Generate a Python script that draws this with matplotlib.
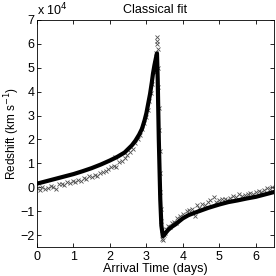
import matplotlib
matplotlib.use("Agg")
import matplotlib.pyplot as plt

plt.rcParams['font.family'] = ['Liberation Sans', 'DejaVu Sans']

# Fitted curve (units of 1e4 km/s)
fit_x = [0.0, 0.25, 0.5, 0.75, 1.0, 1.25, 1.5, 1.75, 2.0, 2.2, 2.4, 2.6, 2.7,
         2.8, 2.88, 2.95, 3.0, 3.05, 3.1, 3.15, 3.18, 3.22, 3.26, 3.29,
         3.31, 3.34, 3.38, 3.41, 3.45, 3.5, 3.55, 3.6, 3.7, 3.8, 3.9, 4.0,
         4.15, 4.3, 4.5, 4.7, 5.0, 5.25, 5.5, 5.75, 6.0, 6.25, 6.5]
fit_y = [0.15, 0.25, 0.35, 0.45, 0.55, 0.67, 0.8, 0.95, 1.12, 1.27, 1.45, 1.75, 1.95,
         2.2, 2.45, 2.8, 3.1, 3.5, 3.9, 4.4, 4.75, 5.1, 5.4, 5.6,
         4.5, 2.0, -0.5, -1.6, -2.05, -1.97, -1.87, -1.78, -1.65, -1.55, -1.42, -1.3,
         -1.17, -1.08, -0.97, -0.86, -0.72, -0.62, -0.55, -0.47, -0.4, -0.3, -0.2]

# Observed points (units of 1e4 km/s)
obs_x = [0.00, 0.08, 0.15, 0.22, 0.30, 0.38, 0.45, 0.52, 0.60, 0.68, 0.75, 0.82,
         0.90, 0.98, 1.05, 1.12, 1.20, 1.28, 1.35, 1.42, 1.50, 1.58, 1.65, 1.72,
         1.80, 1.88, 1.95, 2.02, 2.10, 2.13, 2.16, 2.25, 2.32, 2.40, 2.48, 2.55,
         2.62, 2.70, 2.76, 2.82, 2.88, 2.93, 2.98, 3.03, 3.08, 3.12, 3.16, 3.20,
         3.23, 3.26, 3.28, 3.29, 3.30, 3.31, 3.32, 3.33, 3.34, 3.35, 3.36, 3.37,
         3.38, 3.39, 3.40, 3.42, 3.44, 3.46, 3.48, 3.50, 3.55, 3.60, 3.65, 3.70,
         3.75, 3.80, 3.85, 3.92, 4.00, 4.10, 4.18, 4.25, 4.32, 4.38, 4.45, 4.52,
         4.60, 4.68, 4.75, 4.86, 4.92, 5.00, 5.08, 5.15, 5.22, 5.30, 5.38, 5.45,
         5.55, 5.62, 5.70, 5.78, 5.85, 5.92, 6.00, 6.08, 6.15, 6.22, 6.30, 6.38,
         6.45]
obs_y = [-0.05, -0.12, 0.02, -0.08, -0.02, 0.05, 0.00, -0.08, 0.12, 0.15, 0.10, 0.22,
         0.18, 0.25, 0.20, 0.32, 0.28, 0.38, 0.35, 0.45, 0.42, 0.50, 0.48, 0.58,
         0.62, 0.66, 0.78, 0.85, 0.88, 1.26, 0.85, 1.05, 1.10, 1.22, 1.35, 1.48,
         1.62, 1.85, 2.00, 2.20, 2.45, 2.70, 2.95, 3.25, 3.60, 3.95, 4.30, 4.80,
         5.20, 5.60, 6.00, 6.30, 6.10, 5.80, 5.00, 4.20, 3.30, 2.40, 1.50, 0.60,
         -0.20, -0.90, -1.40, -1.80, -2.15, -2.20, -2.00, -1.90, -1.75, -1.60, -1.65, -1.50,
         -1.45, -1.50, -1.30, -1.20, -1.10, -1.00, -0.95, -0.90, -1.20, -0.75, -0.85, -0.70,
         -0.75, -0.60, -0.55, -0.40, -0.60, -0.55, -0.50, -0.48, -0.55, -0.45, -0.35, -0.42,
         -0.28, -0.38, -0.32, -0.30, -0.22, -0.28, -0.20, -0.15, -0.18, -0.10, -0.05, -0.08,
         0.02]

x_ticks = [0, 1, 2, 3, 4, 5, 6]
y_ticks = [-2, -1, 0, 1, 2, 3, 4, 5, 6, 7]

fig = plt.figure(figsize=(2.76, 2.76), dpi=100)
ax = fig.add_axes([0.134, 0.105, 0.859, 0.823])

ax.plot(obs_x, obs_y, linestyle='none', marker='x', markersize=3.5,
        markeredgewidth=0.6, color='#505050')
ax.plot(fit_x, fit_y, color='black', linewidth=3)

ax.set_xlim(0, 6.5)
ax.set_ylim(-2.5, 7)
ax.set_xticks(x_ticks)
ax.set_yticks(y_ticks)
ax.set_xticklabels([str(t) for t in x_ticks])
ax.set_yticklabels([str(t) if t >= 0 else '\u2212' + str(-t) for t in y_ticks])
ax.tick_params(direction='in', top=True, right=True, labelsize=9, length=3,
               width=0.6)
ax.tick_params(axis='y', pad=2)
ax.tick_params(axis='x', pad=3)
for s in ax.spines.values():
    s.set_linewidth(0.6)

ax.set_title('Classical fit', fontsize=9, pad=5)
ax.set_xlabel('Arrival Time (days)', fontsize=9, labelpad=0)
ax.set_ylabel('Redshift (km s$^{-1}$)', fontsize=8.5)
ax.yaxis.set_label_coords(-0.065, 0.5)
ax.text(0.0, 1.005, 'x 10$^4$', transform=ax.transAxes, fontsize=9,
        ha='left', va='bottom')

fig.savefig('out.png', dpi=100)
